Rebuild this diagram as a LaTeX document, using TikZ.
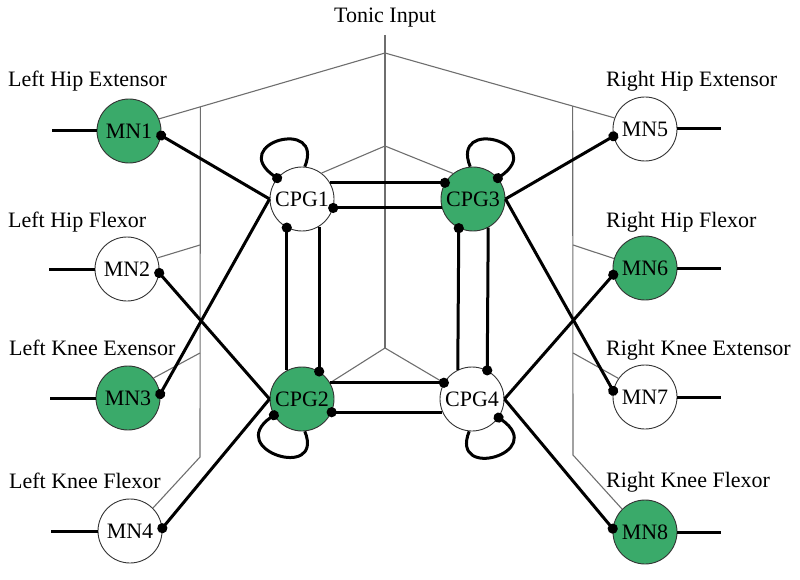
\documentclass[tikz,border=0pt]{standalone}
\usepackage{fontspec}
\setmainfont{Liberation Serif}
\usetikzlibrary{arrows.meta,calc}
\definecolor{mngreen}{RGB}{58,170,106}
\definecolor{tonicgray}{RGB}{110,110,110}
\tikzset{
  neuron/.style={circle,draw=black!80,line width=0.9pt,minimum size=64pt,inner sep=0pt,font=\fontsize{22}{24}\selectfont},
  act/.style={neuron,fill=mngreen},
  rest/.style={neuron,fill=white},
  lbl/.style={font=\fontsize{22}{26}\selectfont,inner sep=0pt},
  conn/.style={line width=3pt,black},
  inh/.style={conn,-{Circle[length=10pt]},shorten >=-5pt},
  tonic/.style={line width=1.1pt,tonicgray},
}
\begin{document}
\begin{tikzpicture}[x=1pt,y=-1pt]
\useasboundingbox (0,0) rectangle (800,580);
% neurons
\node[act]  (mn1) at (129,131) {MN1};
\node[rest] (mn2) at (127,269) {MN2};
\node[act]  (mn3) at (128,398) {MN3};
\node[rest] (mn4) at (130,531) {MN4};
\node[rest] (mn5) at (645,129) {MN5};
\node[act]  (mn6) at (645,268) {MN6};
\node[rest] (mn7) at (645,397) {MN7};
\node[act]  (mn8) at (645,532) {MN8};
\node[rest] (cpg1) at (302,199) {CPG1};
\node[act]  (cpg3) at (473,199) {CPG3};
\node[act]  (cpg2) at (302,399) {CPG2};
\node[rest] (cpg4) at (472,399) {CPG4};
% labels
\node[lbl,anchor=base] (tl) at (385,23) {Tonic Input};
\node[lbl,anchor=base west] (l1) at (8,87) {Left Hip Extensor};
\node[lbl,anchor=base west] (l2) at (8,227) {Left Hip Flexor};
\node[lbl,anchor=base west] (l3) at (9,355) {Left Knee Exensor};
\node[lbl,anchor=base west] (l4) at (9,488) {Left Knee Flexor};
\node[lbl,anchor=base west] (r1) at (606,87) {Right Hip Extensor};
\node[lbl,anchor=base west] (r2) at (606,227) {Right Hip Flexor};
\node[lbl,anchor=base west] (r3) at (606,355) {Right Knee Extensor};
\node[lbl,anchor=base west] (r4) at (606,487) {Right Knee Flexor};
% tonic input tree
\coordinate (tin) at (385,35);
\coordinate (a1) at (385,53);
\coordinate (a2) at (385,146);
\coordinate (a3) at (385,348);
\draw[tonic] (tin) -- (a3);
\draw[tonic] (mn1.22) -- (a1) -- (mn5.160);
\path (a1) -- (mn1.22) coordinate[pos=0.8174] (lv1);
\path (a1) -- (mn5.160) coordinate[pos=0.8177] (rv1);
\coordinate (lv2) at (200,457);
\coordinate (rv2) at (573,455);
\draw[tonic] (lv1) -- (lv2) -- (mn4.45);
\draw[tonic] (rv1) -- (rv2) -- (mn8.135);
\coordinate (lb2) at (200,245);
\coordinate (lb3) at (200,353);
\coordinate (rb6) at (573,245);
\coordinate (rb7) at (573,353);
\draw[tonic] (lb2) -- (mn2.20);
\draw[tonic] (lb3) -- (mn3.38);
\draw[tonic] (rb6) -- (mn6.163);
\draw[tonic] (rb7) -- (mn7.145);
\draw[tonic] (cpg1.53) -- (a2) -- (cpg3.128);
\draw[tonic] (cpg2.30) -- (a3) -- (cpg4.150);
% output stubs
\draw[conn] (mn1.west) -- ++(-45,0);
\draw[conn] (mn2.west) -- ++(-46,0);
\draw[conn] (mn3.west) -- ++(-46,0);
\draw[conn] (mn4.west) -- ++(-47,0);
\draw[conn] (mn5.east) -- ++(44,0);
\draw[conn] (mn6.east) -- ++(44,0);
\draw[conn] (mn7.east) -- ++(44,0);
\draw[conn] (mn8.east) -- ++(44,0);
% CPG to MN
\draw[inh] (cpg1.west) -- (mn1.-8);
\draw[inh] (cpg1.west) -- (mn3.7);
\draw[inh] (cpg2.west) -- (mn2.-7);
\draw[inh] (cpg2.west) -- (mn4.5);
\draw[inh] (cpg3.east) -- (mn5.-167);
\draw[inh] (cpg3.east) -- (mn7.169);
\draw[inh] (cpg4.east) -- (mn6.-168);
\draw[inh] (cpg4.east) -- (mn8.174);
% CPG to CPG
\draw[inh] (cpg1.30) -- (cpg3.150);
\draw[inh] (cpg3.-164) -- (cpg1.-16);
\draw[inh] (cpg2.30) -- (cpg4.150);
\draw[inh] (cpg4.-156) -- (cpg2.-24);
\draw[inh] (cpg2.118) -- (cpg1.-118);
\draw[inh] (cpg1.-58) -- (cpg2.58);
\draw[inh] (cpg4.116) -- (cpg3.-116);
\draw[inh] (cpg3.-62) -- (cpg4.62);
% self loops
\draw[inh] (cpg1.85) .. controls +(20,-50) and +(-50,-35) .. (cpg1.140);
\draw[inh] (cpg3.95) .. controls +(-20,-50) and +(50,-35) .. (cpg3.40);
\draw[inh] (cpg2.-85) .. controls +(20,50) and +(-50,35) .. (cpg2.-150);
\draw[inh] (cpg4.-95) .. controls +(-20,50) and +(50,35) .. (cpg4.-35);
\end{tikzpicture}
\end{document}
